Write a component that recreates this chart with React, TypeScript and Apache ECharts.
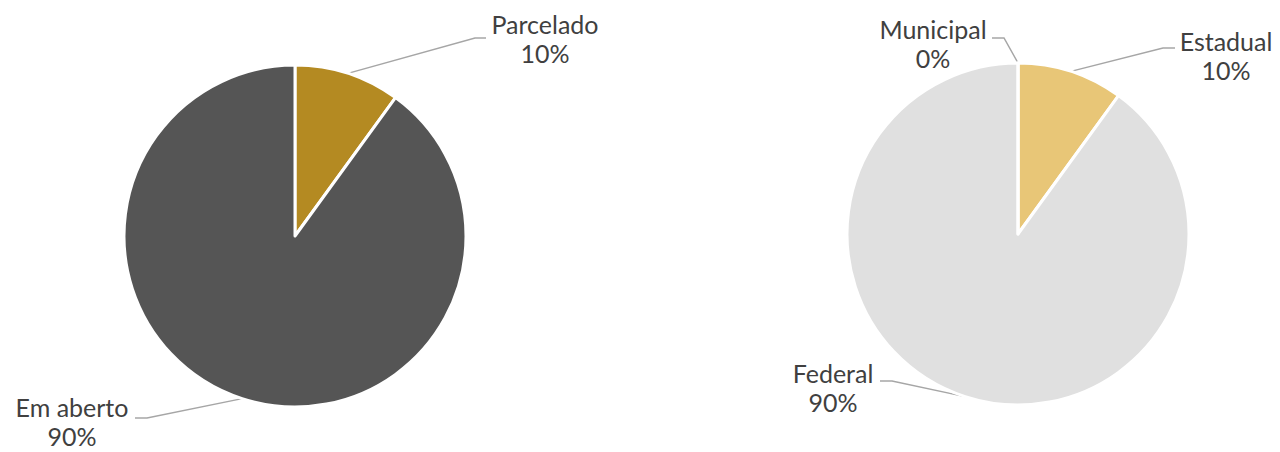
import React, { useEffect, useRef } from "react";
import * as echarts from "echarts";

const leftNames = ["Parcelado", "Em aberto"];
const leftValues = [10, 90];
const leftColors = ["#B48A22", "#555555"];

const rightNames = ["Estadual", "Federal", "Municipal"];
const rightValues = [10, 90, 0];
const rightColors = ["#E8C677", "#E0E0E0", "#E0E0E0"];

// label placement: [labelCenterX, labelCenterY, elbowX, elbowY, endX, endY]
const labelPlacement: Record<string, number[]> = {
  Parcelado: [545, 38, 475, 38, 486, 38],
  "Em aberto": [72, 421, 147, 418, 135, 418],
  Municipal: [933, 43, 1004, 38, 992, 38],
  Estadual: [1226, 55, 1163, 48, 1175, 48],
  Federal: [833, 387, 892, 381, 880, 381],
};

function makeSeries(names: string[], values: number[], colors: string[], center: string[]) {
  const total = values.reduce((a, b) => a + b, 0);
  return {
    type: "pie",
    center,
    radius: [0, 171],
    startAngle: 90,
    clockwise: true,
    avoidLabelOverlap: false,
    minShowLabelAngle: 0,
    itemStyle: { borderColor: "#ffffff", borderWidth: 3 },
    emphasis: { disabled: true },
    label: {
      show: true,
      formatter: (p: any) => `${p.name}\n${Math.round((p.value / total) * 100)}%`,
      fontFamily: "Lato, 'Open Sans', sans-serif",
      fontSize: 25,
      lineHeight: 29,
      color: "#404040",
      align: "center",
    },
    labelLine: {
      show: true,
      lineStyle: { color: "#A6A6A6", width: 1.5 },
    },
    labelLayout: (params: any) => {
      const pl = labelPlacement[names[params.dataIndex]];
      const start = params.labelLinePoints ? params.labelLinePoints[0] : [pl[2], pl[3]];
      return {
        x: pl[0],
        y: pl[1],
        align: "center",
        verticalAlign: "middle",
        hideOverlap: false,
        labelLinePoints: [start, [pl[2], pl[3]], [pl[4], pl[5]]],
      };
    },
    data: names.map((n, i) => ({ name: n, value: values[i], itemStyle: { color: colors[i] } })),
  };
}

export default function App() {
  const ref = useRef<HTMLDivElement>(null);
  useEffect(() => {
    document.body.style.margin = "0";
    if (!ref.current) return;
    const chart = echarts.init(ref.current, null, { renderer: "svg" });
    chart.setOption({
      animation: false,
      backgroundColor: "#ffffff",
      series: [
        makeSeries(leftNames, leftValues, leftColors, ["295", "236"]),
        makeSeries(rightNames, rightValues, rightColors, ["1018", "234"]),
      ],
    });
    return () => chart.dispose();
  }, []);
  return <div ref={ref} style={{ width: 1280, height: 452 }} />;
}
